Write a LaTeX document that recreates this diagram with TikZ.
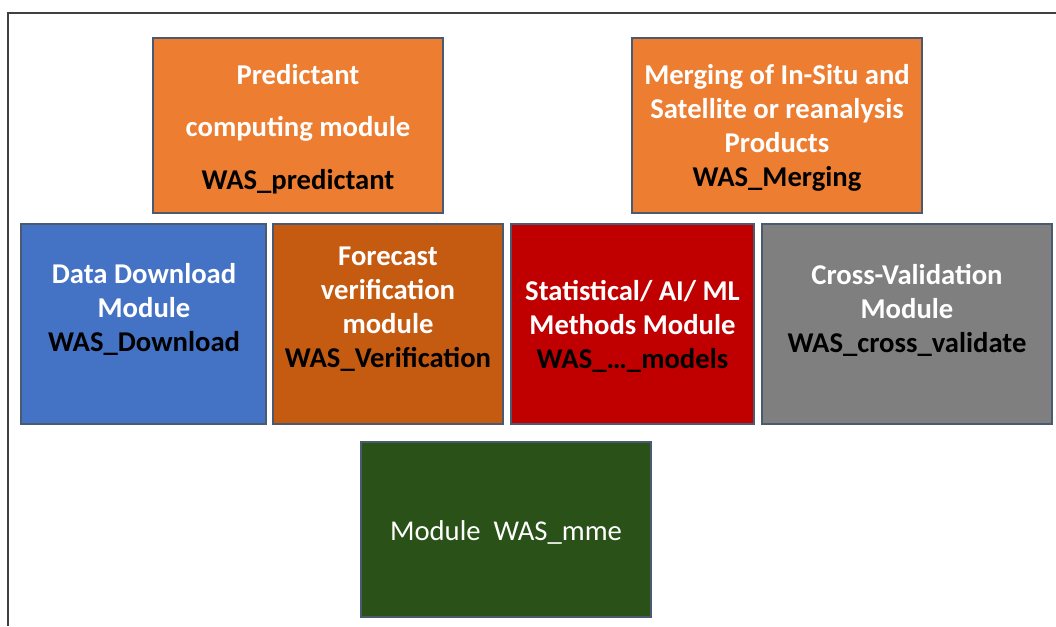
\documentclass[tikz,border=0pt]{standalone}
\usepackage{fontspec}
\setmainfont{Carlito}
\usepackage{tikz}
\usepackage{xcolor}
\definecolor{framegray}{HTML}{404040}
\definecolor{edgegray}{HTML}{4A5A70}
\definecolor{modorange}{HTML}{ED7D31}
\definecolor{modblue}{HTML}{4472C4}
\definecolor{modrust}{HTML}{C55A11}
\definecolor{modred}{HTML}{C00000}
\definecolor{modgray}{HTML}{7F7F7F}
\definecolor{modgreen}{HTML}{2A5118}

\begin{document}
\begin{tikzpicture}[x=0.75pt, y=-0.75pt,
  modbox/.style={draw=edgegray, line width=0.8pt, inner sep=0pt, minimum height=131.25pt},
  modtext/.style={align=center, text=white, font=\fontsize{21.5}{25.5}\selectfont\bfseries}]
  \useasboundingbox (0,0) rectangle (1056,626);
  \draw[framegray, line width=1pt] (8,626) -- (8,13) -- (1056,13);
  % top row
  \node[modbox, fill=modorange, minimum width=217.5pt] (pred) at (298,125.5) {};
  \node[modbox, fill=modorange, minimum width=217.5pt] (merg) at (777,125.5) {};
  \node[modtext] (predtxt) at (298,129) {Predictant\\[14pt]computing module\\[14pt]\textcolor{black}{WAS\_predictant}};
  \node[modtext] (mergtxt) at (777,128) {Merging of In-Situ and\\Satellite or reanalysis\\Products\\\textcolor{black}{WAS\_Merging}};
  % middle row
  \node[modbox, fill=modblue, minimum width=183.75pt, minimum height=150pt] (down) at (143.5,324) {};
  \node[modbox, fill=modrust, minimum width=172.5pt, minimum height=150pt] (verif) at (388,324) {};
  \node[modbox, fill=modred, minimum width=182.25pt, minimum height=150pt] (stat) at (632.5,324) {};
  \node[modbox, fill=modgray, minimum width=217.5pt, minimum height=150pt] (cross) at (907,324) {};
  \node[modtext] (downtxt) at (144,309) {Data Download\\Module\\\textcolor{black}{WAS\_Download}};
  \node[modtext] (veriftxt) at (388,309.5) {Forecast\\verification\\module\\\textcolor{black}{WAS\_Verification}};
  \node[modtext] (stattxt) at (632.5,326.5) {Statistical/ AI/ ML\\Methods Module\\\textcolor{black}{WAS\_\dots\_models}};
  \node[modtext] (crosstxt) at (907,310.5) {Cross-Validation\\Module\\\textcolor{black}{WAS\_cross\_validate}};
  % bottom
  \node[modbox, fill=modgreen, minimum width=217.5pt] (mme) at (506,529.5) {};
  \node[modtext, font=\fontsize{21.5}{25.5}\selectfont] (mmetxt) at (506,532) {Module\ \ WAS\_mme};
\end{tikzpicture}
\end{document}
